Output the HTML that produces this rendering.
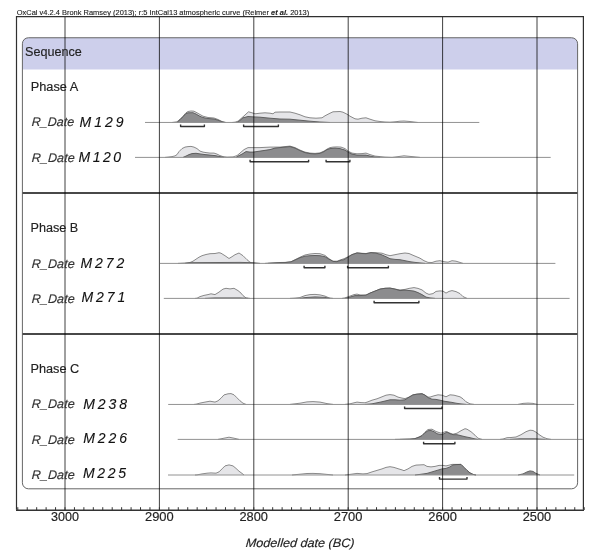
<!DOCTYPE html>
<html><head><meta charset="utf-8"><style>
html,body{margin:0;padding:0;background:#fff;}
svg{display:block;font-family:"Liberation Sans",sans-serif;will-change:transform;}
</style></head><body>
<svg width="600" height="560" viewBox="0 0 600 560">
<rect width="600" height="560" fill="#fff"/>
<path d="M22.4,69.5 L22.4,43.75 Q22.4,37.75 28.4,37.75 L571.6,37.75 Q577.6,37.75 577.6,43.75 L577.6,69.5 Z" fill="#cdcfeb"/>
<polygon points="172.0,122.5 177.0,121.8 180.0,119.2 183.0,116.2 186.0,112.8 188.0,111.5 191.0,111.0 194.0,111.2 197.0,112.8 200.0,114.5 203.0,116.2 208.0,117.5 214.0,118.0 218.0,119.5 222.0,121.5 226.0,122.5" fill="#e5e5e8"/>
<polyline points="172.0,122.5 177.0,121.8 180.0,119.2 183.0,116.2 186.0,112.8 188.0,111.5 191.0,111.0 194.0,111.2 197.0,112.8 200.0,114.5 203.0,116.2 208.0,117.5 214.0,118.0 218.0,119.5 222.0,121.5 226.0,122.5" fill="none" stroke="#7d7d7d" stroke-width="0.9" stroke-linejoin="round"/>
<polygon points="232.0,122.5 235.0,122.2 238.0,121.2 243.0,116.8 248.5,111.8 252.0,112.8 255.0,113.8 260.0,113.2 265.0,112.8 270.0,113.2 273.0,113.8 275.0,112.2 280.0,112.0 290.0,112.0 295.0,113.2 300.0,114.8 305.0,116.8 310.0,117.8 316.0,118.2 322.0,117.8 325.0,115.8 330.0,113.2 333.0,111.8 340.0,111.5 343.0,112.2 347.0,114.2 350.0,116.2 355.0,118.8 358.0,119.2 362.0,118.2 366.0,117.8 370.0,119.2 375.0,120.8 380.0,121.5 385.0,122.0 390.0,122.2 395.0,121.8 400.0,121.2 404.0,121.0 410.0,121.5 418.0,122.5" fill="#e5e5e8"/>
<polyline points="232.0,122.5 235.0,122.2 238.0,121.2 243.0,116.8 248.5,111.8 252.0,112.8 255.0,113.8 260.0,113.2 265.0,112.8 270.0,113.2 273.0,113.8 275.0,112.2 280.0,112.0 290.0,112.0 295.0,113.2 300.0,114.8 305.0,116.8 310.0,117.8 316.0,118.2 322.0,117.8 325.0,115.8 330.0,113.2 333.0,111.8 340.0,111.5 343.0,112.2 347.0,114.2 350.0,116.2 355.0,118.8 358.0,119.2 362.0,118.2 366.0,117.8 370.0,119.2 375.0,120.8 380.0,121.5 385.0,122.0 390.0,122.2 395.0,121.8 400.0,121.2 404.0,121.0 410.0,121.5 418.0,122.5" fill="none" stroke="#7d7d7d" stroke-width="0.9" stroke-linejoin="round"/>
<polygon points="177.0,122.5 180.0,119.8 183.0,116.8 186.0,113.5 188.0,112.8 193.0,112.7 196.0,114.0 199.0,115.8 202.0,117.2 205.0,118.0 208.0,118.5 214.0,119.0 218.0,120.2 222.0,121.8 225.0,122.5" fill="#8c8c8e"/>
<polyline points="177.0,122.5 180.0,119.8 183.0,116.8 186.0,113.5 188.0,112.8 193.0,112.7 196.0,114.0 199.0,115.8 202.0,117.2 205.0,118.0 208.0,118.5 214.0,119.0 218.0,120.2 222.0,121.8 225.0,122.5" fill="none" stroke="#555" stroke-width="0.9" stroke-linejoin="round"/>
<polygon points="236.0,122.5 238.0,122.0 243.0,117.8 248.0,116.5 252.0,116.8 260.0,117.2 270.0,118.2 280.0,119.0 290.0,119.2 300.0,120.2 310.0,121.2 320.0,122.0 330.0,122.5" fill="#8c8c8e"/>
<polyline points="236.0,122.5 238.0,122.0 243.0,117.8 248.0,116.5 252.0,116.8 260.0,117.2 270.0,118.2 280.0,119.0 290.0,119.2 300.0,120.2 310.0,121.2 320.0,122.0 330.0,122.5" fill="none" stroke="#555" stroke-width="0.9" stroke-linejoin="round"/>
<line x1="145" y1="122.45" x2="479.3" y2="122.45" stroke="#929292" stroke-width="1"/>
<path d="M180.6,124.55 L180.6,126.55 L204.4,126.55 L204.4,124.55" fill="none" stroke="#333" stroke-width="1.4" stroke-linejoin="round"/>
<path d="M243.6,124.55 L243.6,126.55 L278.4,126.55 L278.4,124.55" fill="none" stroke="#333" stroke-width="1.4" stroke-linejoin="round"/>
<polygon points="165.0,157.4 168.0,157.1 172.0,156.6 175.0,155.9 177.0,154.6 179.0,151.6 182.0,148.6 185.0,147.1 188.0,146.6 191.0,146.4 194.0,147.1 197.0,148.6 200.0,151.1 203.0,152.1 206.0,152.6 210.0,153.1 214.0,153.1 217.0,154.1 220.0,155.6 223.0,156.6 227.0,157.1 233.0,156.9 237.0,155.6 240.0,153.1 244.0,149.6 248.0,147.6 253.0,147.6 260.0,147.6 270.0,147.1 280.0,147.1 285.0,146.6 290.0,146.1 295.0,147.6 300.0,150.1 305.0,152.1 310.0,153.1 315.0,153.4 320.0,152.9 324.0,151.1 327.0,149.1 330.0,147.6 333.0,147.1 337.0,146.9 341.0,147.1 345.0,148.6 348.0,151.1 352.0,153.1 357.0,153.8 362.0,153.6 366.0,153.1 370.0,154.6 375.0,156.1 380.0,156.6 385.0,157.1 392.0,157.4 396.0,156.9 404.0,155.8 412.0,156.6 420.0,157.4" fill="#e5e5e8"/>
<polyline points="165.0,157.4 168.0,157.1 172.0,156.6 175.0,155.9 177.0,154.6 179.0,151.6 182.0,148.6 185.0,147.1 188.0,146.6 191.0,146.4 194.0,147.1 197.0,148.6 200.0,151.1 203.0,152.1 206.0,152.6 210.0,153.1 214.0,153.1 217.0,154.1 220.0,155.6 223.0,156.6 227.0,157.1 233.0,156.9 237.0,155.6 240.0,153.1 244.0,149.6 248.0,147.6 253.0,147.6 260.0,147.6 270.0,147.1 280.0,147.1 285.0,146.6 290.0,146.1 295.0,147.6 300.0,150.1 305.0,152.1 310.0,153.1 315.0,153.4 320.0,152.9 324.0,151.1 327.0,149.1 330.0,147.6 333.0,147.1 337.0,146.9 341.0,147.1 345.0,148.6 348.0,151.1 352.0,153.1 357.0,153.8 362.0,153.6 366.0,153.1 370.0,154.6 375.0,156.1 380.0,156.6 385.0,157.1 392.0,157.4 396.0,156.9 404.0,155.8 412.0,156.6 420.0,157.4" fill="none" stroke="#7d7d7d" stroke-width="0.9" stroke-linejoin="round"/>
<polygon points="183.0,157.4 186.0,156.1 189.0,154.6 192.0,153.6 196.0,153.3 200.0,153.9 205.0,154.6 210.0,155.1 215.0,155.6 220.0,156.6 224.0,157.4" fill="#8c8c8e"/>
<polyline points="183.0,157.4 186.0,156.1 189.0,154.6 192.0,153.6 196.0,153.3 200.0,153.9 205.0,154.6 210.0,155.1 215.0,155.6 220.0,156.6 224.0,157.4" fill="none" stroke="#555" stroke-width="0.9" stroke-linejoin="round"/>
<polygon points="236.0,157.4 238.0,156.1 242.0,154.1 246.0,151.6 250.0,152.1 253.0,152.1 260.0,151.1 270.0,149.6 275.0,148.1 280.0,147.6 285.0,147.1 290.0,146.6 295.0,148.1 300.0,150.6 305.0,152.6 310.0,153.6 315.0,153.9 320.0,153.4 324.0,151.6 327.0,149.6 330.0,148.6 335.0,148.1 340.0,148.6 345.0,150.1 348.0,152.1 352.0,154.1 357.0,155.1 366.0,155.1 370.0,156.1 375.0,157.1 380.0,157.4" fill="#8c8c8e"/>
<polyline points="236.0,157.4 238.0,156.1 242.0,154.1 246.0,151.6 250.0,152.1 253.0,152.1 260.0,151.1 270.0,149.6 275.0,148.1 280.0,147.6 285.0,147.1 290.0,146.6 295.0,148.1 300.0,150.6 305.0,152.6 310.0,153.6 315.0,153.9 320.0,153.4 324.0,151.6 327.0,149.6 330.0,148.6 335.0,148.1 340.0,148.6 345.0,150.1 348.0,152.1 352.0,154.1 357.0,155.1 366.0,155.1 370.0,156.1 375.0,157.1 380.0,157.4" fill="none" stroke="#555" stroke-width="0.9" stroke-linejoin="round"/>
<line x1="135" y1="157.4" x2="550.7" y2="157.4" stroke="#929292" stroke-width="1"/>
<path d="M250.1,159.79999999999998 L250.1,161.79999999999998 L308.59999999999997,161.79999999999998 L308.59999999999997,159.79999999999998" fill="none" stroke="#333" stroke-width="1.4" stroke-linejoin="round"/>
<path d="M326.1,159.79999999999998 L326.1,161.79999999999998 L349.9,161.79999999999998 L349.9,159.79999999999998" fill="none" stroke="#333" stroke-width="1.4" stroke-linejoin="round"/>
<polygon points="178.0,263.4 185.0,263.0 190.0,262.5 193.0,261.2 196.0,259.2 199.0,257.2 202.0,255.7 206.0,254.5 210.0,253.7 215.0,253.5 219.0,252.7 221.0,253.2 225.0,255.7 229.0,258.5 232.0,256.7 235.0,254.7 239.0,253.0 243.0,255.7 247.0,259.7 250.0,262.2 253.0,263.4" fill="#e5e5e8"/>
<polyline points="178.0,263.4 185.0,263.0 190.0,262.5 193.0,261.2 196.0,259.2 199.0,257.2 202.0,255.7 206.0,254.5 210.0,253.7 215.0,253.5 219.0,252.7 221.0,253.2 225.0,255.7 229.0,258.5 232.0,256.7 235.0,254.7 239.0,253.0 243.0,255.7 247.0,259.7 250.0,262.2 253.0,263.4" fill="none" stroke="#7d7d7d" stroke-width="0.9" stroke-linejoin="round"/>
<polygon points="265.0,263.4 270.0,263.0 280.0,262.5 285.0,262.4 291.0,261.7 295.0,259.7 300.0,257.2 305.0,255.0 310.0,254.0 315.0,253.5 320.0,253.7 325.0,255.4 329.0,258.7 333.0,261.2 337.0,261.2 341.0,259.7 344.0,258.7 348.0,256.7 352.0,254.5 357.0,252.8 362.0,253.3 366.0,253.5 371.0,252.5 376.0,252.7 382.0,253.2 386.0,254.7 390.0,255.7 395.0,254.7 400.0,253.7 405.0,253.0 409.0,253.5 414.0,255.7 420.0,258.2 424.0,260.7 428.0,262.4 432.0,262.5 436.0,261.2 440.0,260.7 444.0,261.7 448.0,262.2 452.0,260.7 456.0,261.2 463.0,263.4" fill="#e5e5e8"/>
<polyline points="265.0,263.4 270.0,263.0 280.0,262.5 285.0,262.4 291.0,261.7 295.0,259.7 300.0,257.2 305.0,255.0 310.0,254.0 315.0,253.5 320.0,253.7 325.0,255.4 329.0,258.7 333.0,261.2 337.0,261.2 341.0,259.7 344.0,258.7 348.0,256.7 352.0,254.5 357.0,252.8 362.0,253.3 366.0,253.5 371.0,252.5 376.0,252.7 382.0,253.2 386.0,254.7 390.0,255.7 395.0,254.7 400.0,253.7 405.0,253.0 409.0,253.5 414.0,255.7 420.0,258.2 424.0,260.7 428.0,262.4 432.0,262.5 436.0,261.2 440.0,260.7 444.0,261.7 448.0,262.2 452.0,260.7 456.0,261.2 463.0,263.4" fill="none" stroke="#7d7d7d" stroke-width="0.9" stroke-linejoin="round"/>
<polygon points="185.0,263.4 190.0,262.7 220.0,262.5 240.0,262.4 253.0,262.7 260.0,263.4" fill="#8c8c8e"/>
<polyline points="185.0,263.4 190.0,262.7 220.0,262.5 240.0,262.4 253.0,262.7 260.0,263.4" fill="none" stroke="#555" stroke-width="0.9" stroke-linejoin="round"/>
<polygon points="268.0,263.4 280.0,262.6 285.0,262.6 291.0,261.9 295.0,260.0 300.0,257.7 305.0,256.2 310.0,255.7 315.0,255.5 320.0,255.7 325.0,256.7 329.0,259.2 333.0,261.4 337.0,261.7 341.0,260.2 344.0,259.7 348.0,257.2 352.0,254.7 357.0,253.0 362.0,253.5 366.0,253.7 371.0,252.7 376.0,253.2 381.0,254.5 386.0,256.7 390.0,258.7 395.0,259.4 400.0,259.7 405.0,260.7 410.0,261.7 415.0,262.4 420.0,262.9 425.0,263.4" fill="#8c8c8e"/>
<polyline points="268.0,263.4 280.0,262.6 285.0,262.6 291.0,261.9 295.0,260.0 300.0,257.7 305.0,256.2 310.0,255.7 315.0,255.5 320.0,255.7 325.0,256.7 329.0,259.2 333.0,261.4 337.0,261.7 341.0,260.2 344.0,259.7 348.0,257.2 352.0,254.7 357.0,253.0 362.0,253.5 366.0,253.7 371.0,252.7 376.0,253.2 381.0,254.5 386.0,256.7 390.0,258.7 395.0,259.4 400.0,259.7 405.0,260.7 410.0,261.7 415.0,262.4 420.0,262.9 425.0,263.4" fill="none" stroke="#555" stroke-width="0.9" stroke-linejoin="round"/>
<line x1="160" y1="263.4" x2="555.4" y2="263.4" stroke="#929292" stroke-width="1"/>
<path d="M304.1,265.7 L304.1,267.7 L324.9,267.7 L324.9,265.7" fill="none" stroke="#333" stroke-width="1.4" stroke-linejoin="round"/>
<path d="M347.6,265.7 L347.6,267.7 L388.4,267.7 L388.4,265.7" fill="none" stroke="#333" stroke-width="1.4" stroke-linejoin="round"/>
<polygon points="195.0,298.4 197.0,298.2 200.0,296.6 204.0,295.4 208.0,294.6 211.0,293.8 215.0,294.6 219.0,292.1 223.0,289.1 226.0,288.3 230.0,288.9 234.0,288.3 238.0,290.6 241.0,293.1 243.0,295.6 246.0,297.9 250.0,298.4" fill="#e5e5e8"/>
<polyline points="195.0,298.4 197.0,298.2 200.0,296.6 204.0,295.4 208.0,294.6 211.0,293.8 215.0,294.6 219.0,292.1 223.0,289.1 226.0,288.3 230.0,288.9 234.0,288.3 238.0,290.6 241.0,293.1 243.0,295.6 246.0,297.9 250.0,298.4" fill="none" stroke="#7d7d7d" stroke-width="0.9" stroke-linejoin="round"/>
<polygon points="290.0,298.4 295.0,298.1 300.0,297.5 305.0,295.6 310.0,294.6 315.0,294.4 320.0,294.9 325.0,296.1 329.0,297.9 333.0,298.4" fill="#e5e5e8"/>
<polyline points="290.0,298.4 295.0,298.1 300.0,297.5 305.0,295.6 310.0,294.6 315.0,294.4 320.0,294.9 325.0,296.1 329.0,297.9 333.0,298.4" fill="none" stroke="#7d7d7d" stroke-width="0.9" stroke-linejoin="round"/>
<polygon points="342.0,298.4 345.0,297.9 350.0,296.1 354.0,294.6 357.0,294.1 360.0,294.9 364.0,295.1 366.0,295.1 370.0,293.1 375.0,291.1 380.0,289.1 385.0,288.3 390.0,288.1 395.0,289.1 400.0,289.9 405.0,289.4 409.0,288.4 414.0,287.6 418.0,288.4 422.0,289.9 426.0,293.1 429.0,294.4 433.0,293.6 436.0,291.4 440.0,290.9 443.0,291.1 446.0,293.1 449.0,291.4 452.0,290.6 456.0,291.6 460.0,293.6 463.0,296.6 467.0,298.4" fill="#e5e5e8"/>
<polyline points="342.0,298.4 345.0,297.9 350.0,296.1 354.0,294.6 357.0,294.1 360.0,294.9 364.0,295.1 366.0,295.1 370.0,293.1 375.0,291.1 380.0,289.1 385.0,288.3 390.0,288.1 395.0,289.1 400.0,289.9 405.0,289.4 409.0,288.4 414.0,287.6 418.0,288.4 422.0,289.9 426.0,293.1 429.0,294.4 433.0,293.6 436.0,291.4 440.0,290.9 443.0,291.1 446.0,293.1 449.0,291.4 452.0,290.6 456.0,291.6 460.0,293.6 463.0,296.6 467.0,298.4" fill="none" stroke="#7d7d7d" stroke-width="0.9" stroke-linejoin="round"/>
<polygon points="205.0,298.4 215.0,297.9 240.0,297.9 248.0,298.4" fill="#8c8c8e"/>
<polyline points="205.0,298.4 215.0,297.9 240.0,297.9 248.0,298.4" fill="none" stroke="#555" stroke-width="0.9" stroke-linejoin="round"/>
<polygon points="300.0,298.4 305.0,297.6 315.0,296.9 325.0,297.4 330.0,298.4" fill="#8c8c8e"/>
<polyline points="300.0,298.4 305.0,297.6 315.0,296.9 325.0,297.4 330.0,298.4" fill="none" stroke="#555" stroke-width="0.9" stroke-linejoin="round"/>
<polygon points="345.0,298.4 350.0,297.1 355.0,295.6 360.0,295.6 366.0,295.1 370.0,293.1 375.0,291.1 380.0,289.1 385.0,288.3 390.0,288.1 395.0,289.1 400.0,290.6 405.0,290.1 410.0,290.6 414.0,291.1 418.0,292.6 422.0,294.6 426.0,297.1 430.0,297.9 435.0,298.4" fill="#8c8c8e"/>
<polyline points="345.0,298.4 350.0,297.1 355.0,295.6 360.0,295.6 366.0,295.1 370.0,293.1 375.0,291.1 380.0,289.1 385.0,288.3 390.0,288.1 395.0,289.1 400.0,290.6 405.0,290.1 410.0,290.6 414.0,291.1 418.0,292.6 422.0,294.6 426.0,297.1 430.0,297.9 435.0,298.4" fill="none" stroke="#555" stroke-width="0.9" stroke-linejoin="round"/>
<line x1="163.8" y1="298.4" x2="569.6" y2="298.4" stroke="#929292" stroke-width="1"/>
<path d="M374.1,300.79999999999995 L374.1,302.79999999999995 L418.9,302.79999999999995 L418.9,300.79999999999995" fill="none" stroke="#333" stroke-width="1.4" stroke-linejoin="round"/>
<polygon points="194.0,404.4 196.0,404.2 200.0,403.1 205.0,402.1 210.0,401.2 215.0,402.1 218.0,400.8 221.0,398.2 224.0,394.9 228.0,393.8 231.0,393.6 234.0,394.8 237.0,397.8 240.0,400.8 243.0,403.2 246.0,404.4" fill="#e5e5e8"/>
<polyline points="194.0,404.4 196.0,404.2 200.0,403.1 205.0,402.1 210.0,401.2 215.0,402.1 218.0,400.8 221.0,398.2 224.0,394.9 228.0,393.8 231.0,393.6 234.0,394.8 237.0,397.8 240.0,400.8 243.0,403.2 246.0,404.4" fill="none" stroke="#7d7d7d" stroke-width="0.9" stroke-linejoin="round"/>
<polygon points="290.0,404.4 300.0,403.2 307.0,401.9 313.0,401.6 320.0,402.1 327.0,403.6 333.0,404.4" fill="#e5e5e8"/>
<polyline points="290.0,404.4 300.0,403.2 307.0,401.9 313.0,401.6 320.0,402.1 327.0,403.6 333.0,404.4" fill="none" stroke="#7d7d7d" stroke-width="0.9" stroke-linejoin="round"/>
<polygon points="345.0,404.4 350.0,403.8 354.0,402.8 357.0,402.1 361.0,402.6 365.0,402.8 368.0,401.8 372.0,400.2 377.0,398.8 382.0,396.8 386.0,395.2 390.0,394.6 394.0,395.2 398.0,397.1 402.0,398.1 405.0,398.6 409.0,397.1 413.0,394.8 417.0,394.1 422.0,393.6 425.0,395.1 428.0,397.1 430.0,397.1 434.0,395.8 438.0,394.8 442.0,395.2 446.0,396.8 450.0,394.8 454.0,395.2 460.0,396.8 463.0,398.8 466.0,401.8 470.0,403.8 474.0,404.4" fill="#e5e5e8"/>
<polyline points="345.0,404.4 350.0,403.8 354.0,402.8 357.0,402.1 361.0,402.6 365.0,402.8 368.0,401.8 372.0,400.2 377.0,398.8 382.0,396.8 386.0,395.2 390.0,394.6 394.0,395.2 398.0,397.1 402.0,398.1 405.0,398.6 409.0,397.1 413.0,394.8 417.0,394.1 422.0,393.6 425.0,395.1 428.0,397.1 430.0,397.1 434.0,395.8 438.0,394.8 442.0,395.2 446.0,396.8 450.0,394.8 454.0,395.2 460.0,396.8 463.0,398.8 466.0,401.8 470.0,403.8 474.0,404.4" fill="none" stroke="#7d7d7d" stroke-width="0.9" stroke-linejoin="round"/>
<polygon points="518.0,404.4 523.0,403.4 528.0,403.1 533.0,403.4 537.0,404.4" fill="#e5e5e8"/>
<polyline points="518.0,404.4 523.0,403.4 528.0,403.1 533.0,403.4 537.0,404.4" fill="none" stroke="#7d7d7d" stroke-width="0.9" stroke-linejoin="round"/>
<polygon points="365.0,404.4 372.0,403.8 380.0,402.2 386.0,400.8 390.0,399.8 395.0,399.8 400.0,400.2 405.0,399.8 409.0,397.2 413.0,394.9 417.0,394.2 422.0,393.8 425.0,395.2 428.0,397.6 432.0,399.2 436.0,399.4 440.0,400.2 444.0,401.2 448.0,401.8 452.0,402.4 456.0,403.2 460.0,403.8 466.0,404.4" fill="#8c8c8e"/>
<polyline points="365.0,404.4 372.0,403.8 380.0,402.2 386.0,400.8 390.0,399.8 395.0,399.8 400.0,400.2 405.0,399.8 409.0,397.2 413.0,394.9 417.0,394.2 422.0,393.8 425.0,395.2 428.0,397.6 432.0,399.2 436.0,399.4 440.0,400.2 444.0,401.2 448.0,401.8 452.0,402.4 456.0,403.2 460.0,403.8 466.0,404.4" fill="none" stroke="#555" stroke-width="0.9" stroke-linejoin="round"/>
<line x1="168.2" y1="404.45" x2="574.2" y2="404.45" stroke="#929292" stroke-width="1"/>
<path d="M404.6,406.55 L404.6,408.55 L442.0,408.55 L442.0,406.55" fill="none" stroke="#333" stroke-width="1.4" stroke-linejoin="round"/>
<polygon points="218.0,439.4 224.0,438.2 229.0,437.2 234.0,438.2 239.0,439.4" fill="#e5e5e8"/>
<polyline points="218.0,439.4 224.0,438.2 229.0,437.2 234.0,438.2 239.0,439.4" fill="none" stroke="#7d7d7d" stroke-width="0.9" stroke-linejoin="round"/>
<polygon points="400.0,439.4 410.0,439.0 415.0,438.5 419.0,437.0 422.0,435.5 425.0,432.2 428.0,429.5 432.0,429.2 436.0,431.5 441.0,433.2 446.0,431.5 450.0,433.2 453.0,434.2 457.0,433.2 461.0,430.7 465.0,428.7 467.0,429.2 471.0,431.7 475.0,435.2 478.0,438.2 482.0,439.4" fill="#e5e5e8"/>
<polyline points="400.0,439.4 410.0,439.0 415.0,438.5 419.0,437.0 422.0,435.5 425.0,432.2 428.0,429.5 432.0,429.2 436.0,431.5 441.0,433.2 446.0,431.5 450.0,433.2 453.0,434.2 457.0,433.2 461.0,430.7 465.0,428.7 467.0,429.2 471.0,431.7 475.0,435.2 478.0,438.2 482.0,439.4" fill="none" stroke="#7d7d7d" stroke-width="0.9" stroke-linejoin="round"/>
<polygon points="500.0,439.4 503.0,439.0 507.0,437.7 511.0,437.5 516.0,437.0 521.0,434.7 526.0,431.7 530.0,430.2 533.0,430.5 536.0,432.2 539.0,434.5 543.0,437.2 547.0,438.7 551.0,439.4" fill="#e5e5e8"/>
<polyline points="500.0,439.4 503.0,439.0 507.0,437.7 511.0,437.5 516.0,437.0 521.0,434.7 526.0,431.7 530.0,430.2 533.0,430.5 536.0,432.2 539.0,434.5 543.0,437.2 547.0,438.7 551.0,439.4" fill="none" stroke="#7d7d7d" stroke-width="0.9" stroke-linejoin="round"/>
<polygon points="395.0,439.4 410.0,439.2 415.0,438.7 419.0,437.2 422.0,435.7 425.0,432.7 428.0,430.7 431.0,430.5 434.0,431.7 437.0,433.7 441.0,434.7 444.0,433.7 447.0,432.0 450.0,433.7 453.0,434.7 457.0,434.7 461.0,435.7 465.0,436.7 470.0,437.7 474.0,438.7 478.0,439.4" fill="#8c8c8e"/>
<polyline points="395.0,439.4 410.0,439.2 415.0,438.7 419.0,437.2 422.0,435.7 425.0,432.7 428.0,430.7 431.0,430.5 434.0,431.7 437.0,433.7 441.0,434.7 444.0,433.7 447.0,432.0 450.0,433.7 453.0,434.7 457.0,434.7 461.0,435.7 465.0,436.7 470.0,437.7 474.0,438.7 478.0,439.4" fill="none" stroke="#555" stroke-width="0.9" stroke-linejoin="round"/>
<polygon points="510.0,439.4 520.0,438.8 535.0,438.8 545.0,439.4" fill="#8c8c8e"/>
<polyline points="510.0,439.4 520.0,438.8 535.0,438.8 545.0,439.4" fill="none" stroke="#555" stroke-width="0.9" stroke-linejoin="round"/>
<line x1="177.7" y1="439.4" x2="582.8" y2="439.4" stroke="#929292" stroke-width="1"/>
<path d="M423.6,441.7 L423.6,443.7 L454.9,443.7 L454.9,441.7" fill="none" stroke="#333" stroke-width="1.4" stroke-linejoin="round"/>
<polygon points="195.0,475.0 197.0,474.9 202.0,473.9 207.0,473.2 211.0,472.9 216.0,473.2 219.0,471.9 222.0,468.9 225.0,465.9 229.0,464.9 233.0,465.9 236.0,468.4 239.0,471.2 242.0,473.4 244.0,475.0" fill="#e5e5e8"/>
<polyline points="195.0,475.0 197.0,474.9 202.0,473.9 207.0,473.2 211.0,472.9 216.0,473.2 219.0,471.9 222.0,468.9 225.0,465.9 229.0,464.9 233.0,465.9 236.0,468.4 239.0,471.2 242.0,473.4 244.0,475.0" fill="none" stroke="#7d7d7d" stroke-width="0.9" stroke-linejoin="round"/>
<polygon points="292.0,475.0 300.0,474.2 307.0,473.5 313.0,473.4 320.0,473.7 327.0,474.4 333.0,475.0" fill="#e5e5e8"/>
<polyline points="292.0,475.0 300.0,474.2 307.0,473.5 313.0,473.4 320.0,473.7 327.0,474.4 333.0,475.0" fill="none" stroke="#7d7d7d" stroke-width="0.9" stroke-linejoin="round"/>
<polygon points="345.0,475.0 350.0,474.4 357.0,473.4 363.0,473.9 367.0,473.6 372.0,471.9 377.0,470.4 382.0,468.9 386.0,467.4 390.0,466.7 394.0,467.4 398.0,468.7 402.0,469.9 404.0,470.7 408.0,468.9 412.0,466.4 416.0,465.1 420.0,464.9 424.0,464.7 427.0,466.4 431.0,466.9 435.0,466.4 439.0,465.4 443.0,465.4 446.0,465.9 449.0,465.2 452.0,464.4 461.0,464.4 464.0,467.4 467.0,470.4 470.0,472.9 473.0,474.4 476.0,475.0" fill="#e5e5e8"/>
<polyline points="345.0,475.0 350.0,474.4 357.0,473.4 363.0,473.9 367.0,473.6 372.0,471.9 377.0,470.4 382.0,468.9 386.0,467.4 390.0,466.7 394.0,467.4 398.0,468.7 402.0,469.9 404.0,470.7 408.0,468.9 412.0,466.4 416.0,465.1 420.0,464.9 424.0,464.7 427.0,466.4 431.0,466.9 435.0,466.4 439.0,465.4 443.0,465.4 446.0,465.9 449.0,465.2 452.0,464.4 461.0,464.4 464.0,467.4 467.0,470.4 470.0,472.9 473.0,474.4 476.0,475.0" fill="none" stroke="#7d7d7d" stroke-width="0.9" stroke-linejoin="round"/>
<polygon points="415.0,475.0 420.0,474.4 427.0,473.4 432.0,471.9 437.0,470.4 442.0,468.9 446.0,468.4 450.0,466.9 453.0,464.9 456.0,464.6 461.0,464.4 464.0,467.4 467.0,470.4 470.0,472.9 473.0,474.4 476.0,475.0" fill="#8c8c8e"/>
<polyline points="415.0,475.0 420.0,474.4 427.0,473.4 432.0,471.9 437.0,470.4 442.0,468.9 446.0,468.4 450.0,466.9 453.0,464.9 456.0,464.6 461.0,464.4 464.0,467.4 467.0,470.4 470.0,472.9 473.0,474.4 476.0,475.0" fill="none" stroke="#555" stroke-width="0.9" stroke-linejoin="round"/>
<polygon points="518.0,475.0 523.0,473.9 527.0,471.9 530.0,470.9 533.0,471.4 536.0,473.4 540.0,475.0" fill="#8c8c8e"/>
<polyline points="518.0,475.0 523.0,473.9 527.0,471.9 530.0,470.9 533.0,471.4 536.0,473.4 540.0,475.0" fill="none" stroke="#555" stroke-width="0.9" stroke-linejoin="round"/>
<line x1="168" y1="475.0" x2="574.2" y2="475.0" stroke="#929292" stroke-width="1"/>
<path d="M439.5,477.09999999999997 L439.5,479.09999999999997 L467.0,479.09999999999997 L467.0,477.09999999999997" fill="none" stroke="#333" stroke-width="1.4" stroke-linejoin="round"/>
<rect x="22.4" y="37.75" width="555.2" height="451.05" rx="6" ry="6" fill="none" stroke="#666" stroke-width="1"/>
<line x1="22.5" y1="193" x2="577.5" y2="193" stroke="#484848" stroke-width="1.9"/>
<line x1="22.5" y1="334" x2="577.5" y2="334" stroke="#484848" stroke-width="1.9"/>
<line x1="65.00" y1="16.5" x2="65.00" y2="510" stroke="#000" stroke-opacity="0.75" stroke-width="1"/>
<line x1="159.40" y1="16.5" x2="159.40" y2="510" stroke="#000" stroke-opacity="0.75" stroke-width="1"/>
<line x1="253.80" y1="16.5" x2="253.80" y2="510" stroke="#000" stroke-opacity="0.75" stroke-width="1"/>
<line x1="348.20" y1="16.5" x2="348.20" y2="510" stroke="#000" stroke-opacity="0.75" stroke-width="1"/>
<line x1="442.60" y1="16.5" x2="442.60" y2="510" stroke="#000" stroke-opacity="0.75" stroke-width="1"/>
<line x1="537.00" y1="16.5" x2="537.00" y2="510" stroke="#000" stroke-opacity="0.75" stroke-width="1"/>
<path d="M16.5,509.8 L16.5,16.6 L583.4,16.6 L583.4,509.8" fill="none" stroke="#303030" stroke-width="1.2"/>
<line x1="16" y1="510.2" x2="584" y2="510.2" stroke="#333" stroke-width="1.4"/>
<line x1="17.80" y1="507.2" x2="17.80" y2="510" stroke="#333" stroke-width="1"/>
<line x1="27.24" y1="507.2" x2="27.24" y2="510" stroke="#333" stroke-width="1"/>
<line x1="36.68" y1="507.2" x2="36.68" y2="510" stroke="#333" stroke-width="1"/>
<line x1="46.12" y1="507.2" x2="46.12" y2="510" stroke="#333" stroke-width="1"/>
<line x1="55.56" y1="507.2" x2="55.56" y2="510" stroke="#333" stroke-width="1"/>
<line x1="65.00" y1="507.2" x2="65.00" y2="510" stroke="#333" stroke-width="1"/>
<line x1="74.44" y1="507.2" x2="74.44" y2="510" stroke="#333" stroke-width="1"/>
<line x1="83.88" y1="507.2" x2="83.88" y2="510" stroke="#333" stroke-width="1"/>
<line x1="93.32" y1="507.2" x2="93.32" y2="510" stroke="#333" stroke-width="1"/>
<line x1="102.76" y1="507.2" x2="102.76" y2="510" stroke="#333" stroke-width="1"/>
<line x1="112.20" y1="507.2" x2="112.20" y2="510" stroke="#333" stroke-width="1"/>
<line x1="121.64" y1="507.2" x2="121.64" y2="510" stroke="#333" stroke-width="1"/>
<line x1="131.08" y1="507.2" x2="131.08" y2="510" stroke="#333" stroke-width="1"/>
<line x1="140.52" y1="507.2" x2="140.52" y2="510" stroke="#333" stroke-width="1"/>
<line x1="149.96" y1="507.2" x2="149.96" y2="510" stroke="#333" stroke-width="1"/>
<line x1="159.40" y1="507.2" x2="159.40" y2="510" stroke="#333" stroke-width="1"/>
<line x1="168.84" y1="507.2" x2="168.84" y2="510" stroke="#333" stroke-width="1"/>
<line x1="178.28" y1="507.2" x2="178.28" y2="510" stroke="#333" stroke-width="1"/>
<line x1="187.72" y1="507.2" x2="187.72" y2="510" stroke="#333" stroke-width="1"/>
<line x1="197.16" y1="507.2" x2="197.16" y2="510" stroke="#333" stroke-width="1"/>
<line x1="206.60" y1="507.2" x2="206.60" y2="510" stroke="#333" stroke-width="1"/>
<line x1="216.04" y1="507.2" x2="216.04" y2="510" stroke="#333" stroke-width="1"/>
<line x1="225.48" y1="507.2" x2="225.48" y2="510" stroke="#333" stroke-width="1"/>
<line x1="234.92" y1="507.2" x2="234.92" y2="510" stroke="#333" stroke-width="1"/>
<line x1="244.36" y1="507.2" x2="244.36" y2="510" stroke="#333" stroke-width="1"/>
<line x1="253.80" y1="507.2" x2="253.80" y2="510" stroke="#333" stroke-width="1"/>
<line x1="263.24" y1="507.2" x2="263.24" y2="510" stroke="#333" stroke-width="1"/>
<line x1="272.68" y1="507.2" x2="272.68" y2="510" stroke="#333" stroke-width="1"/>
<line x1="282.12" y1="507.2" x2="282.12" y2="510" stroke="#333" stroke-width="1"/>
<line x1="291.56" y1="507.2" x2="291.56" y2="510" stroke="#333" stroke-width="1"/>
<line x1="301.00" y1="507.2" x2="301.00" y2="510" stroke="#333" stroke-width="1"/>
<line x1="310.44" y1="507.2" x2="310.44" y2="510" stroke="#333" stroke-width="1"/>
<line x1="319.88" y1="507.2" x2="319.88" y2="510" stroke="#333" stroke-width="1"/>
<line x1="329.32" y1="507.2" x2="329.32" y2="510" stroke="#333" stroke-width="1"/>
<line x1="338.76" y1="507.2" x2="338.76" y2="510" stroke="#333" stroke-width="1"/>
<line x1="348.20" y1="507.2" x2="348.20" y2="510" stroke="#333" stroke-width="1"/>
<line x1="357.64" y1="507.2" x2="357.64" y2="510" stroke="#333" stroke-width="1"/>
<line x1="367.08" y1="507.2" x2="367.08" y2="510" stroke="#333" stroke-width="1"/>
<line x1="376.52" y1="507.2" x2="376.52" y2="510" stroke="#333" stroke-width="1"/>
<line x1="385.96" y1="507.2" x2="385.96" y2="510" stroke="#333" stroke-width="1"/>
<line x1="395.40" y1="507.2" x2="395.40" y2="510" stroke="#333" stroke-width="1"/>
<line x1="404.84" y1="507.2" x2="404.84" y2="510" stroke="#333" stroke-width="1"/>
<line x1="414.28" y1="507.2" x2="414.28" y2="510" stroke="#333" stroke-width="1"/>
<line x1="423.72" y1="507.2" x2="423.72" y2="510" stroke="#333" stroke-width="1"/>
<line x1="433.16" y1="507.2" x2="433.16" y2="510" stroke="#333" stroke-width="1"/>
<line x1="442.60" y1="507.2" x2="442.60" y2="510" stroke="#333" stroke-width="1"/>
<line x1="452.04" y1="507.2" x2="452.04" y2="510" stroke="#333" stroke-width="1"/>
<line x1="461.48" y1="507.2" x2="461.48" y2="510" stroke="#333" stroke-width="1"/>
<line x1="470.92" y1="507.2" x2="470.92" y2="510" stroke="#333" stroke-width="1"/>
<line x1="480.36" y1="507.2" x2="480.36" y2="510" stroke="#333" stroke-width="1"/>
<line x1="489.80" y1="507.2" x2="489.80" y2="510" stroke="#333" stroke-width="1"/>
<line x1="499.24" y1="507.2" x2="499.24" y2="510" stroke="#333" stroke-width="1"/>
<line x1="508.68" y1="507.2" x2="508.68" y2="510" stroke="#333" stroke-width="1"/>
<line x1="518.12" y1="507.2" x2="518.12" y2="510" stroke="#333" stroke-width="1"/>
<line x1="527.56" y1="507.2" x2="527.56" y2="510" stroke="#333" stroke-width="1"/>
<line x1="537.00" y1="507.2" x2="537.00" y2="510" stroke="#333" stroke-width="1"/>
<line x1="546.44" y1="507.2" x2="546.44" y2="510" stroke="#333" stroke-width="1"/>
<line x1="555.88" y1="507.2" x2="555.88" y2="510" stroke="#333" stroke-width="1"/>
<line x1="565.32" y1="507.2" x2="565.32" y2="510" stroke="#333" stroke-width="1"/>
<line x1="574.76" y1="507.2" x2="574.76" y2="510" stroke="#333" stroke-width="1"/>
<line x1="584.20" y1="507.2" x2="584.20" y2="510" stroke="#333" stroke-width="1"/>
<text x="16.75" y="15.1" font-size="7.7" font-style="normal" fill="#222" stroke="#222" stroke-width="0.12" textLength="292.50" lengthAdjust="spacingAndGlyphs">OxCal v4.2.4 Bronk Ramsey (2013); r:5 IntCal13 atmospheric curve (Reimer <tspan font-weight="bold" font-style="italic">et al.</tspan> 2013)</text>
<text x="25.00" y="55.7" font-size="12.6" font-style="normal" fill="#222" stroke="#222" stroke-width="0.15" textLength="56.75" lengthAdjust="spacingAndGlyphs">Sequence</text>
<text x="30.75" y="90.9" font-size="12.3" font-style="normal" fill="#222" stroke="#222" stroke-width="0.15" textLength="47.50" lengthAdjust="spacingAndGlyphs">Phase A</text>
<text x="30.50" y="231.6" font-size="12.3" font-style="normal" fill="#222" stroke="#222" stroke-width="0.15" textLength="47.75" lengthAdjust="spacingAndGlyphs">Phase B</text>
<text x="30.50" y="373.0" font-size="12.3" font-style="normal" fill="#222" stroke="#222" stroke-width="0.15" textLength="48.75" lengthAdjust="spacingAndGlyphs">Phase C</text>
<text x="31.50" y="126.4" font-size="12.5" font-style="italic" fill="#333" stroke="#333" stroke-width="0.15" transform="matrix(1,0,-0.06,1,7.584,0)" textLength="42.50" lengthAdjust="spacingAndGlyphs">R_Date</text>
<text x="79.50" y="127.05" font-size="14.0" font-style="italic" fill="#111" stroke="#111" stroke-width="0.12" textLength="44.00" lengthAdjust="spacing">M129</text>
<text x="31.50" y="161.9" font-size="12.5" font-style="italic" fill="#333" stroke="#333" stroke-width="0.15" transform="matrix(1,0,-0.06,1,9.714,0)" textLength="43.00" lengthAdjust="spacingAndGlyphs">R_Date</text>
<text x="78.50" y="162.05" font-size="14.0" font-style="italic" fill="#111" stroke="#111" stroke-width="0.12" textLength="42.50" lengthAdjust="spacing">M120</text>
<text x="31.50" y="267.75" font-size="12.5" font-style="italic" fill="#333" stroke="#333" stroke-width="0.15" transform="matrix(1,0,-0.06,1,16.065,0)" textLength="43.00" lengthAdjust="spacingAndGlyphs">R_Date</text>
<text x="80.50" y="268.05" font-size="14.0" font-style="italic" fill="#111" stroke="#111" stroke-width="0.12" textLength="43.75" lengthAdjust="spacing">M272</text>
<text x="31.50" y="302.75" font-size="12.5" font-style="italic" fill="#333" stroke="#333" stroke-width="0.15" transform="matrix(1,0,-0.06,1,18.165,0)" textLength="43.00" lengthAdjust="spacingAndGlyphs">R_Date</text>
<text x="81.50" y="302.05" font-size="14.0" font-style="italic" fill="#111" stroke="#111" stroke-width="0.12" textLength="43.75" lengthAdjust="spacing">M271</text>
<text x="31.50" y="408.4" font-size="12.5" font-style="italic" fill="#333" stroke="#333" stroke-width="0.15" transform="matrix(1,0,-0.06,1,24.504,0)" textLength="43.00" lengthAdjust="spacingAndGlyphs">R_Date</text>
<text x="83.25" y="408.55" font-size="14.0" font-style="italic" fill="#111" stroke="#111" stroke-width="0.12" textLength="43.75" lengthAdjust="spacing">M238</text>
<text x="31.50" y="443.9" font-size="12.5" font-style="italic" fill="#333" stroke="#333" stroke-width="0.15" transform="matrix(1,0,-0.06,1,26.634,0)" textLength="43.00" lengthAdjust="spacingAndGlyphs">R_Date</text>
<text x="83.25" y="443.05" font-size="14.0" font-style="italic" fill="#111" stroke="#111" stroke-width="0.12" textLength="43.75" lengthAdjust="spacing">M226</text>
<text x="31.50" y="479.25" font-size="12.5" font-style="italic" fill="#333" stroke="#333" stroke-width="0.15" transform="matrix(1,0,-0.06,1,28.755,0)" textLength="43.00" lengthAdjust="spacingAndGlyphs">R_Date</text>
<text x="83.00" y="478.3" font-size="14.0" font-style="italic" fill="#111" stroke="#111" stroke-width="0.12" textLength="43.00" lengthAdjust="spacing">M225</text>
<text x="51.00" y="521.0" font-size="12.2" font-style="normal" fill="#222" stroke="#222" stroke-width="0.15" textLength="28.00" lengthAdjust="spacingAndGlyphs">3000</text>
<text x="145.00" y="521.0" font-size="12.2" font-style="normal" fill="#222" stroke="#222" stroke-width="0.15" textLength="28.75" lengthAdjust="spacingAndGlyphs">2900</text>
<text x="239.50" y="521.0" font-size="12.2" font-style="normal" fill="#222" stroke="#222" stroke-width="0.15" textLength="28.50" lengthAdjust="spacingAndGlyphs">2800</text>
<text x="333.75" y="521.0" font-size="12.2" font-style="normal" fill="#222" stroke="#222" stroke-width="0.15" textLength="28.75" lengthAdjust="spacingAndGlyphs">2700</text>
<text x="428.25" y="521.0" font-size="12.2" font-style="normal" fill="#222" stroke="#222" stroke-width="0.15" textLength="28.75" lengthAdjust="spacingAndGlyphs">2600</text>
<text x="522.75" y="521.0" font-size="12.2" font-style="normal" fill="#222" stroke="#222" stroke-width="0.15" textLength="28.50" lengthAdjust="spacingAndGlyphs">2500</text>
<text x="245.50" y="546.7" font-size="12.2" font-style="italic" fill="#222" stroke="#222" stroke-width="0.15" transform="matrix(1,0,-0.08,1,43.736,0)" textLength="108.75" lengthAdjust="spacingAndGlyphs">Modelled date (BC)</text>
</svg>
</body></html>
